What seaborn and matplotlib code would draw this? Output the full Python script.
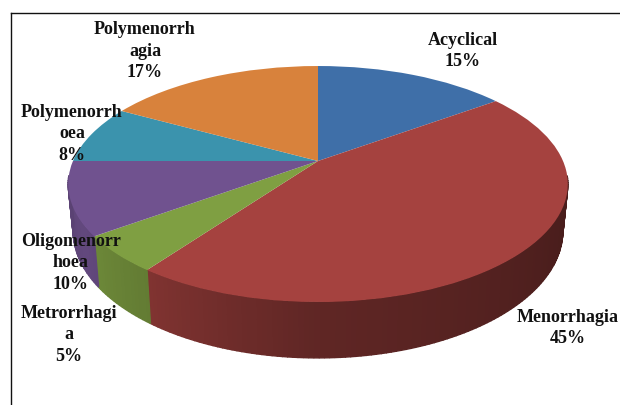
import matplotlib
matplotlib.use("Agg")
import matplotlib.pyplot as plt
from matplotlib.transforms import Transform
import numpy as np
import seaborn as sns

categories = ["Acyclical", "Menorrhagia", "Metrorrhagia", "Oligomenorrhoea", "Polymenorrhoea", "Polymenorrhagia"]
percent = [15, 45, 5, 10, 8, 17]
label_text = ["Acyclical\n15%", "Menorrhagia\n45%", "Metrorrhagi\na\n5%",
              "Oligomenorr\nhoea\n10%", "Polymenorrh\noea\n8%", "Polymenorrh\nagia\n17%"]

# Parameters
slice_colors = ["#3F6FA8", "#A5423F", "#7F9F42", "#70528F", "#3B93AD", "#D8823C"]
label_x = [463, 568, 69, 71, 72, 145]
label_y = [51, 328, 335, 263, 134, 51]
my_fontsize = 13
pie_x, pie_y = 318, 161
pie_rx, pie_ry = 245, 113.5
tilt = 0.195
depth = 45


class TiltTransform(Transform):
    # unit circle -> tilted disc in pixel coordinates, with perspective
    input_dims = 2
    output_dims = 2
    is_separable = False
    has_inverse = False

    def __init__(self, drop=0, narrow=1.0):
        super().__init__()
        self.drop = drop
        self.narrow = narrow

    def transform_non_affine(self, values):
        values = np.asarray(values, dtype=float)
        den = 1 + tilt * values[:, 1]
        out_x = pie_x + self.narrow * pie_rx * values[:, 0] / den
        out_y = pie_y - (pie_ry * values[:, 1] - self.drop) / den
        return np.column_stack([out_x, out_y])


sns.set_style("white")
plt.rcParams['font.family'] = ['Liberation Serif', 'DejaVu Serif']

fig = plt.figure(figsize=(6.2, 4.05), dpi=100)
ax = fig.add_axes([11 / 620, 0, 609 / 620, 392 / 405])

wedges, _ = ax.pie(percent, colors=sns.color_palette(slice_colors), startangle=90, counterclock=False)
ax.set_aspect("auto")
ax.set_xlim(11, 620)
ax.set_ylim(405, 13)
ax.set_frame_on(True)
ax.set_xticks([])
ax.set_yticks([])
for side in ["right", "bottom"]:
    ax.spines[side].set_visible(False)
for side in ["left", "top"]:
    ax.spines[side].set_color("#111111")
    ax.spines[side].set_linewidth(1.0)

top_rim = TiltTransform()
bottom_rim = TiltTransform(depth, 0.98)

# Side wall, darker towards the right; only the front of the rim shows
for w, c in zip(wedges, slice_colors):
    w.set_transform(top_rim + ax.transData)
    w.set_zorder(3)
    w.set_linewidth(0)
    rgb = np.array(matplotlib.colors.to_rgb(c))
    th = np.radians(np.linspace(w.theta2, w.theta1, max(2, int(abs(w.theta2 - w.theta1)))))
    unit = np.column_stack([np.cos(th), np.sin(th)])
    up = top_rim.transform(unit)
    low = bottom_rim.transform(unit)
    for i in range(len(th) - 1):
        if unit[i, 1] > -0.12 or unit[i + 1, 1] > -0.12:
            continue
        px = [up[i, 0], up[i + 1, 0], low[i + 1, 0], low[i, 0]]
        py = [up[i, 1], up[i + 1, 1], low[i + 1, 1], low[i, 1]]
        deg = (90 - np.degrees(th[i])) % 360
        shade = np.interp(deg, [90, 120, 180, 216, 240, 270], [0.42, 0.46, 0.58, 0.78, 0.88, 0.78])
        col = tuple(rgb * shade)
        ax.fill(px, py, color=col, linewidth=1.0, zorder=2)

for txt, lx, ly in zip(label_text, label_x, label_y):
    ax.text(lx, ly, txt, fontsize=my_fontsize, fontweight="bold", color="#111111",
            ha="center", va="center", multialignment="center", linespacing=1.32,
            zorder=5, clip_on=True)

plt.savefig("out.png", dpi=100)
